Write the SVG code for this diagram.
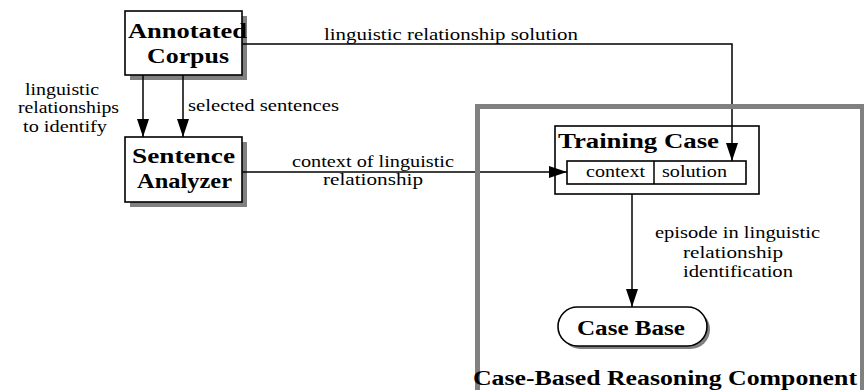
<svg xmlns="http://www.w3.org/2000/svg" width="864" height="390" viewBox="0 0 864 390">
<defs>
<style>
.t{font-family:"Liberation Serif","Times New Roman",serif;font-size:16px;fill:#000}
.b{font-family:"Liberation Serif","Times New Roman",serif;font-size:20px;font-weight:bold;fill:#000}
.box{fill:#fff;stroke:#000;stroke-width:1.6}
.sh{fill:#808080}
.ln{fill:none;stroke:#000;stroke-width:1.5}
</style>
<marker id="ah" viewBox="0 0 18 12" refX="18" refY="6" markerWidth="18" markerHeight="12" markerUnits="userSpaceOnUse" orient="auto">
<path d="M0,0 L18,6 L0,12 Z" fill="#000"/>
</marker>
</defs>
<rect width="864" height="390" fill="#fff"/>
<g id="annotated-corpus">
<rect class="sh" x="130" y="16" width="117" height="64"/>
<rect class="box" x="125" y="11" width="117" height="64"/>
<text class="b" x="128" y="38" textLength="119" lengthAdjust="spacingAndGlyphs">Annotated</text>
<text class="b" x="147" y="63" textLength="82" lengthAdjust="spacingAndGlyphs">Corpus</text>
</g>
<g id="sentence-analyzer">
<rect class="sh" x="130" y="142" width="117" height="65"/>
<rect class="box" x="125" y="137" width="117" height="65"/>
<text class="b" x="132" y="163" textLength="103" lengthAdjust="spacingAndGlyphs">Sentence</text>
<text class="b" x="137" y="188" textLength="95" lengthAdjust="spacingAndGlyphs">Analyzer</text>
</g>
<g id="training-case">
<rect class="box" x="555" y="126" width="204" height="68"/>
<text class="b" x="558" y="148" textLength="161" lengthAdjust="spacingAndGlyphs">Training Case</text>
<rect class="box" x="567" y="161" width="179" height="23"/>
<line class="ln" x1="654" y1="161" x2="654" y2="184"/>
<text class="t" x="586" y="177" textLength="59" lengthAdjust="spacingAndGlyphs">context</text>
<text class="t" x="662" y="177" textLength="65" lengthAdjust="spacingAndGlyphs">solution</text>
</g>
<g id="case-base">
<rect x="561" y="310" width="149" height="39" rx="19.5" fill="#808080"/>
<rect x="558" y="307" width="149" height="39" rx="19.5" class="box"/>
<text class="b" x="577" y="335" textLength="108" lengthAdjust="spacingAndGlyphs">Case Base</text>
</g>
<g id="connectors">
<path class="ln" d="M143,75 V137" marker-end="url(#ah)"/>
<path class="ln" d="M183,75 V137" marker-end="url(#ah)"/>
<path class="ln" d="M242,44 H732 V161" marker-end="url(#ah)"/>
<path class="ln" d="M242,172 H567" marker-end="url(#ah)"/>
<path class="ln" d="M632,194 V307" marker-end="url(#ah)"/>
<text class="t" x="25" y="95" textLength="74" lengthAdjust="spacingAndGlyphs">linguistic</text>
<text class="t" x="18" y="113" textLength="101" lengthAdjust="spacingAndGlyphs">relationships</text>
<text class="t" x="23" y="131.5" textLength="84" lengthAdjust="spacingAndGlyphs">to identify</text>
<text class="t" x="188" y="111" textLength="151" lengthAdjust="spacingAndGlyphs">selected sentences</text>
<text class="t" x="324" y="40" textLength="254" lengthAdjust="spacingAndGlyphs">linguistic relationship solution</text>
<text class="t" x="292" y="166.5" textLength="162" lengthAdjust="spacingAndGlyphs">context of linguistic</text>
<text class="t" x="323" y="185" textLength="100" lengthAdjust="spacingAndGlyphs">relationship</text>
<text class="t" x="655" y="238" textLength="165" lengthAdjust="spacingAndGlyphs">episode in linguistic</text>
<text class="t" x="683" y="258" textLength="100" lengthAdjust="spacingAndGlyphs">relationship</text>
<text class="t" x="683" y="277" textLength="110" lengthAdjust="spacingAndGlyphs">identification</text>
</g>
<g id="cbr-component">
<rect x="477.5" y="106.5" width="385" height="290" fill="none" stroke="#808080" stroke-width="5"/>
<text class="b" x="473" y="385" textLength="384" lengthAdjust="spacingAndGlyphs">Case-Based Reasoning Component</text>
</g>
</svg>
